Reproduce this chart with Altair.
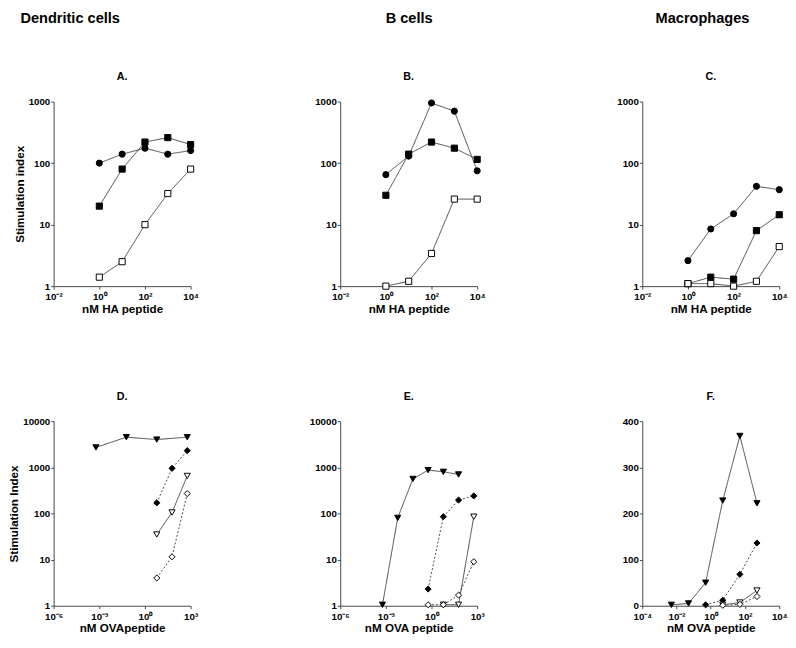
import altair as alt
import pandas as pd

# ---------------- data ----------------
HA_x = [1, 10, 100, 1000, 10000]

A_fcircle = [100, 140, 175, 140, 160]
A_fsquare = [20, 80, 220, 260, 200]
A_osquare = [1.4, 2.5, 10, 32, 80]

B_fcircle = [65, 130, 950, 700, 75]
B_fsquare = [30, 140, 220, 175, 115]
B_osquare = [1.0, 1.2, 3.4, 26, 26]

C_fcircle = [2.6, 8.5, 15, 42, 37]
C_fsquare = [1.1, 1.4, 1.3, 8, 14.5]
C_osquare = [1.1, 1.1, 1.0, 1.2, 4.4]

D_tri_x = [0.0006, 0.06, 6, 600]
D_ftri = [2700, 4500, 4000, 4500]
D_x3 = [6, 60, 600]
D_fdiam = [170, 950, 2300]
D_otri = [35, 105, 650]
D_odiam = [4, 11.5, 270]

E_tri_x = [0.0006, 0.006, 0.06, 0.6, 6, 60]
E_ftri = [1.05, 80, 560, 870, 800, 700]
E_x4 = [0.6, 6, 60, 600]
E_fdiam = [2.3, 85, 195, 240]
E_x3 = [6, 60, 600]
E_otri = [1.05, 1.05, 85]
E_odiam = [1.05, 1.05, 1.7, 9]

F_tri_x = [0.005, 0.05, 0.5, 5, 50, 500]
F_ftri = [2, 5, 50, 228, 368, 222]
F_x4 = [0.5, 5, 50, 500]
F_fdiam = [2, 12, 68, 136]
F_x3 = [5, 50, 500]
F_otri = [2, 7, 33]
F_odiam = [1, 3, 20]

HEADERS = ["Dendritic cells", "B cells", "Macrophages"]
LETTERS = ["A.", "B.", "C.", "D.", "E.", "F."]

# series styling
S_NAMES = ["fcircle", "fsquare", "osquare", "ftri", "fdiam", "otri", "odiam"]
S_SHAPES = ["circle", "square", "square", "triangle-down", "diamond", "triangle-down", "diamond"]
S_FILLS = ["black", "black", "white", "black", "black", "white", "white"]
S_SIZES = [40, 40, 40, 60, 50, 60, 50]
S_DASH = [[1, 0], [1, 0], [1, 0], [1, 0], [2, 2], [1, 0], [2, 2]]

FONT = "Liberation Sans"
PW, PH = 141, 190

SUP = ("'10' + (round(log(datum.value)/LN10) < 0 ? '\u207b' : '') + "
       "substring('\u2070\u00b9\u00b2\u00b3\u2074\u2075\u2076', "
       "abs(round(log(datum.value)/LN10)), abs(round(log(datum.value)/LN10)) + 1)")


def frame(pairs):
    rows = []
    for name, xs, ys in pairs:
        for xv, yv in zip(xs, ys):
            rows.append({"x": xv, "y": yv, "s": name})
    return pd.DataFrame(rows)


def panel(df, letter, xdom, xvals, ytype, ydom, yvals, xtitle, ytitle):
    xaxis = alt.Axis(values=xvals, labelExpr=SUP, title=xtitle, labelOverlap=False,
                     labelFlush=False, labelPadding=3, titlePadding=2)
    if ytitle:
        yaxis = alt.Axis(values=yvals, format="d", title=ytitle, labelOverlap=False,
                         labelFlush=False, titlePadding=2)
    else:
        yaxis = alt.Axis(values=yvals, format="d", title=None, labelOverlap=False,
                         labelFlush=False)
    x = alt.X("x:Q", scale=alt.Scale(type="log", domain=xdom), axis=xaxis)
    y = alt.Y("y:Q", scale=alt.Scale(type=ytype, domain=ydom), axis=yaxis)
    base = alt.Chart(df)
    lines = base.mark_line(color="#333333", strokeWidth=0.9).encode(
        x=x, y=y, detail="s:N",
        strokeDash=alt.StrokeDash("s:N", scale=alt.Scale(domain=S_NAMES, range=S_DASH), legend=None),
    )
    pts = base.mark_point(stroke="black", strokeWidth=1, opacity=1, fillOpacity=1).encode(
        x=x, y=y,
        shape=alt.Shape("s:N", scale=alt.Scale(domain=S_NAMES, range=S_SHAPES), legend=None),
        fill=alt.Fill("s:N", scale=alt.Scale(domain=S_NAMES, range=S_FILLS), legend=None),
        size=alt.Size("s:N", scale=alt.Scale(domain=S_NAMES, range=S_SIZES), legend=None),
    )
    return alt.layer(lines, pts).properties(
        width=PW, height=PH,
        title=alt.TitleParams(letter, fontSize=11, font=FONT, fontWeight="bold",
                              anchor="middle", frame="group", offset=15),
    )


HA_dom = [0.01, 10000]
HA_vals = [0.01, 1, 100, 10000]
LOG3 = [1, 10, 100, 1000]
LOG4 = [1, 10, 100, 1000, 10000]
OVA_dom = [1e-6, 1000]
OVA_vals = [1e-6, 1e-3, 1, 1000]

pA = panel(frame([("fcircle", HA_x, A_fcircle), ("fsquare", HA_x, A_fsquare), ("osquare", HA_x, A_osquare)]),
           LETTERS[0], HA_dom, HA_vals, "log", [1, 1000], LOG3, "nM HA peptide", "Stimulation index")
pB = panel(frame([("fcircle", HA_x, B_fcircle), ("fsquare", HA_x, B_fsquare), ("osquare", HA_x, B_osquare)]),
           LETTERS[1], HA_dom, HA_vals, "log", [1, 1000], LOG3, "nM HA peptide", None)
pC = panel(frame([("fcircle", HA_x, C_fcircle), ("fsquare", HA_x, C_fsquare), ("osquare", HA_x, C_osquare)]),
           LETTERS[2], HA_dom, HA_vals, "log", [1, 1000], LOG3, "nM HA peptide", None)

pD = panel(frame([("ftri", D_tri_x, D_ftri), ("fdiam", D_x3, D_fdiam), ("otri", D_x3, D_otri), ("odiam", D_x3, D_odiam)]),
           LETTERS[3], OVA_dom, OVA_vals, "log", [1, 10000], LOG4, "nM OVApeptide", "Stimulation Index")
pE = panel(frame([("ftri", E_tri_x, E_ftri), ("fdiam", E_x4, E_fdiam), ("otri", E_x3, E_otri), ("odiam", E_x4, E_odiam)]),
           LETTERS[4], OVA_dom, OVA_vals, "log", [1, 10000], LOG4, "nM OVA peptide", None)
pF = panel(frame([("ftri", F_tri_x, F_ftri), ("fdiam", F_x4, F_fdiam), ("otri", F_x3, F_otri), ("odiam", F_x3, F_odiam)]),
           LETTERS[5], [1e-4, 10000], [1e-4, 1e-2, 1, 100, 10000], "linear", [0, 400], [0, 100, 200, 300, 400],
           "nM OVA peptide", None)


def blank(w, h=1, title=None):
    c = alt.Chart(pd.DataFrame({"v": [0]})).mark_text(text="").encode(
        x=alt.value(0), y=alt.value(0))
    if title:
        return c.properties(width=w, height=h, title=title)
    return c.properties(width=w, height=h)


def header(text, w, dx):
    return blank(w, 1, alt.TitleParams(text, fontSize=15, font=FONT, fontWeight="bold",
                                       anchor="middle", frame="group", offset=0, dx=dx))


header_row = alt.hconcat(
    header(HEADERS[0], 124, -45), blank(226), header(HEADERS[1], 100, -34), blank(195),
    header(HEADERS[2], 100, -27),
    spacing=0, bounds="flush",
)

SP1, SP2 = 154, 170
grid = alt.concat(
    pA, blank(SP1, PH), pB, blank(SP2, PH), pC,
    pD, blank(SP1, PH), pE, blank(SP2, PH), pF,
    columns=5, spacing={"row": 139, "column": 0}, bounds="flush",
)

chart = alt.vconcat(header_row, grid, spacing=36).properties(
    padding={"left": 0, "top": -6, "right": 0, "bottom": 0}
).configure_view(
    stroke=None
).configure_axis(
    grid=False, domainColor="#444444", tickColor="#444444", tickSize=3,
    labelFont=FONT, labelFontWeight="bold", labelFontSize=10, labelColor="black", labelPadding=1,
    titleFont=FONT, titleFontWeight="bold", titleFontSize=12, titleColor="black",
)

chart.save("out.html", embed_options={"renderer": "svg", "actions": False})
